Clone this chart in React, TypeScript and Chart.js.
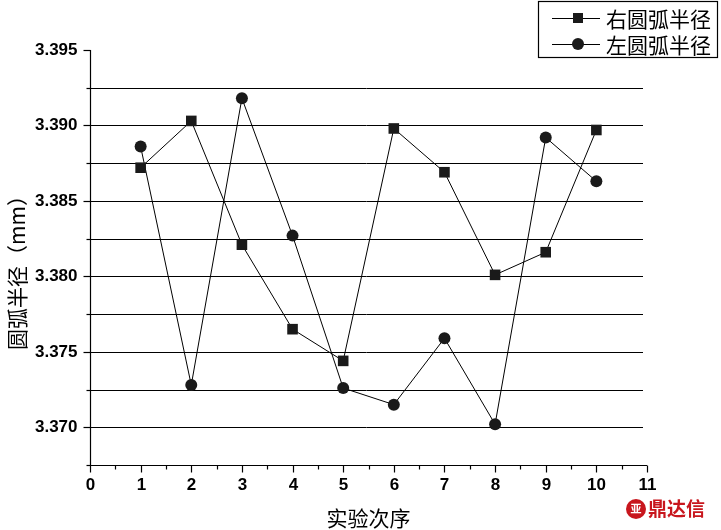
import React, { useEffect, useRef } from "react";
import { Chart, registerables } from "chart.js";

Chart.register(...registerables);

const categories = [1, 2, 3, 4, 5, 6, 7, 8, 9, 10];
const rightRadius = [3.3872, 3.3903, 3.3821, 3.3765, 3.3744, 3.3898, 3.3869, 3.3801, 3.3816, 3.3897];
const leftRadius = [3.3886, 3.3728, 3.3918, 3.3827, 3.3726, 3.3715, 3.3759, 3.3702, 3.3892, 3.3863];
const seriesNames = ["右圆弧半径", "左圆弧半径"];
const xTicks = [0, 1, 2, 3, 4, 5, 6, 7, 8, 9, 10, 11];
const yMajorTicks = [3.395, 3.39, 3.385, 3.38, 3.375, 3.37];
const yMinorTicks = [3.3925, 3.3875, 3.3825, 3.3775, 3.3725, 3.3675];
const gridValues = [3.3925, 3.39, 3.3875, 3.385, 3.3825, 3.38, 3.3775, 3.375, 3.3725, 3.37];
const xTitle = "实验次序";
const yTitle = "圆弧半径（mm）";

const NUM_FONT = 'bold 17px "Liberation Sans", Arial, sans-serif';
const CJK_FONT = '21px "Noto Sans CJK SC", sans-serif';

const decorPlugin = {
  id: "decor",
  beforeDatasetsDraw(chart: any) {
    const { ctx, chartArea, scales } = chart;
    const ys = scales.y;
    ctx.save();
    ctx.strokeStyle = "#000";
    ctx.lineWidth = 1;
    gridValues.forEach((v) => {
      const py = Math.round(ys.getPixelForValue(v)) + 0.5;
      ctx.beginPath();
      ctx.moveTo(chartArea.left, py);
      ctx.lineTo(chartArea.right - 4, py);
      ctx.stroke();
    });
    ctx.restore();
  },
  afterDraw(chart: any) {
    const { ctx, chartArea, scales } = chart;
    const xs = scales.x;
    const ys = scales.y;
    ctx.save();
    ctx.strokeStyle = "#000";
    ctx.fillStyle = "#000";
    ctx.lineWidth = 1.2;
    const left = Math.round(chartArea.left) + 0.5;
    const bottom = Math.round(chartArea.bottom) + 0.5;
    ctx.beginPath();
    ctx.moveTo(left, chartArea.top);
    ctx.lineTo(left, bottom);
    ctx.lineTo(chartArea.right, bottom);
    ctx.stroke();
    ctx.font = NUM_FONT;
    ctx.textAlign = "right";
    ctx.textBaseline = "middle";
    yMajorTicks.forEach((v) => {
      const py = Math.round(ys.getPixelForValue(v)) + 0.5;
      ctx.beginPath();
      ctx.moveTo(left - 7, py);
      ctx.lineTo(left, py);
      ctx.stroke();
      ctx.fillText(v.toFixed(3), left - 13, py);
    });
    yMinorTicks.forEach((v) => {
      const py = Math.round(ys.getPixelForValue(v)) + 0.5;
      ctx.beginPath();
      ctx.moveTo(left - 4, py);
      ctx.lineTo(left, py);
      ctx.stroke();
    });
    ctx.textAlign = "center";
    ctx.textBaseline = "top";
    xTicks.forEach((v) => {
      const px = Math.round(xs.getPixelForValue(v)) + 0.5;
      ctx.beginPath();
      ctx.moveTo(px, bottom);
      ctx.lineTo(px, bottom + 7);
      ctx.stroke();
      ctx.fillText(String(v), px, bottom + 11);
      if (v < 11) {
        const mx = Math.round(xs.getPixelForValue(v + 0.5)) + 0.5;
        ctx.beginPath();
        ctx.moveTo(mx, bottom);
        ctx.lineTo(mx, bottom + 4);
        ctx.stroke();
      }
    });
    ctx.font = CJK_FONT;
    ctx.textAlign = "center";
    ctx.textBaseline = "middle";
    ctx.fillText(xTitle, (chartArea.left + chartArea.right) / 2, 518);
    ctx.save();
    ctx.translate(17, (chartArea.top + chartArea.bottom) / 2 + 10);
    ctx.rotate(-Math.PI / 2);
    ctx.fillText(yTitle, 0, 0);
    ctx.restore();

    ctx.lineWidth = 1.2;
    ctx.strokeRect(538.5, 1.5, 179, 56);
    const rowsY = [18, 44];
    ctx.lineWidth = 1;
    rowsY.forEach((ry, i) => {
      ctx.beginPath();
      ctx.moveTo(552, ry + 0.5);
      ctx.lineTo(600, ry + 0.5);
      ctx.stroke();
      ctx.fillStyle = "#1a1a1a";
      if (i === 0) {
        ctx.fillRect(573, ry - 5, 10, 10);
      } else {
        ctx.beginPath();
        ctx.arc(578, ry, 6, 0, Math.PI * 2);
        ctx.fill();
      }
      ctx.fillStyle = "#000";
      ctx.textAlign = "left";
      ctx.textBaseline = "middle";
      ctx.font = CJK_FONT;
      ctx.fillText(seriesNames[i], 606, ry + 1);
    });

    ctx.fillStyle = "#c8161d";
    ctx.beginPath();
    ctx.arc(636, 509, 10, 0, Math.PI * 2);
    ctx.fill();
    ctx.fillStyle = "#fff";
    ctx.font = 'bold 11px "Noto Sans CJK SC", sans-serif';
    ctx.textAlign = "center";
    ctx.fillText("亚", 636, 509);
    ctx.fillStyle = "#c8161d";
    ctx.font = 'bold 19px "Noto Sans CJK SC", sans-serif';
    ctx.textAlign = "left";
    ctx.fillText("鼎达信", 648, 509);
    ctx.restore();
  },
};

export default function App() {
  const ref = useRef<HTMLCanvasElement | null>(null);
  useEffect(() => {
    if (!ref.current) return;
    const chart = new Chart(ref.current, {
      type: "line",
      data: {
        datasets: [
          {
            label: seriesNames[0],
            data: categories.map((c, i) => ({ x: c, y: rightRadius[i] })),
            borderColor: "#000",
            backgroundColor: "#1a1a1a",
            borderWidth: 1,
            pointStyle: "rect",
            pointRadius: 7.5,
            pointBorderWidth: 0,
            tension: 0,
          },
          {
            label: seriesNames[1],
            data: categories.map((c, i) => ({ x: c, y: leftRadius[i] })),
            borderColor: "#000",
            backgroundColor: "#1a1a1a",
            borderWidth: 1,
            pointStyle: "circle",
            pointRadius: 6,
            pointBorderWidth: 0,
            tension: 0,
          },
        ],
      },
      options: {
        animation: false,
        responsive: false,
        maintainAspectRatio: false,
        layout: { padding: { top: 50, right: 74, left: 0, bottom: 0 } },
        plugins: { legend: { display: false }, tooltip: { enabled: false } },
        scales: {
          x: {
            type: "linear",
            min: 0,
            max: 11,
            grid: { display: false },
            border: { display: false },
            ticks: { display: false },
            afterFit: (s: any) => {
              s.height = 65;
            },
          },
          y: {
            type: "linear",
            min: 3.3675,
            max: 3.395,
            grid: { display: false },
            border: { display: false },
            ticks: { display: false },
            afterFit: (s: any) => {
              s.width = 90;
            },
          },
        },
      },
      plugins: [decorPlugin],
    });
    return () => chart.destroy();
  }, []);
  return (
    <div style={{ position: "fixed", left: 0, top: 0, width: 721, height: 530, background: "#fff" }}>
      <canvas ref={ref} width={721} height={530} style={{ width: 721, height: 530 }} />
    </div>
  );
}
